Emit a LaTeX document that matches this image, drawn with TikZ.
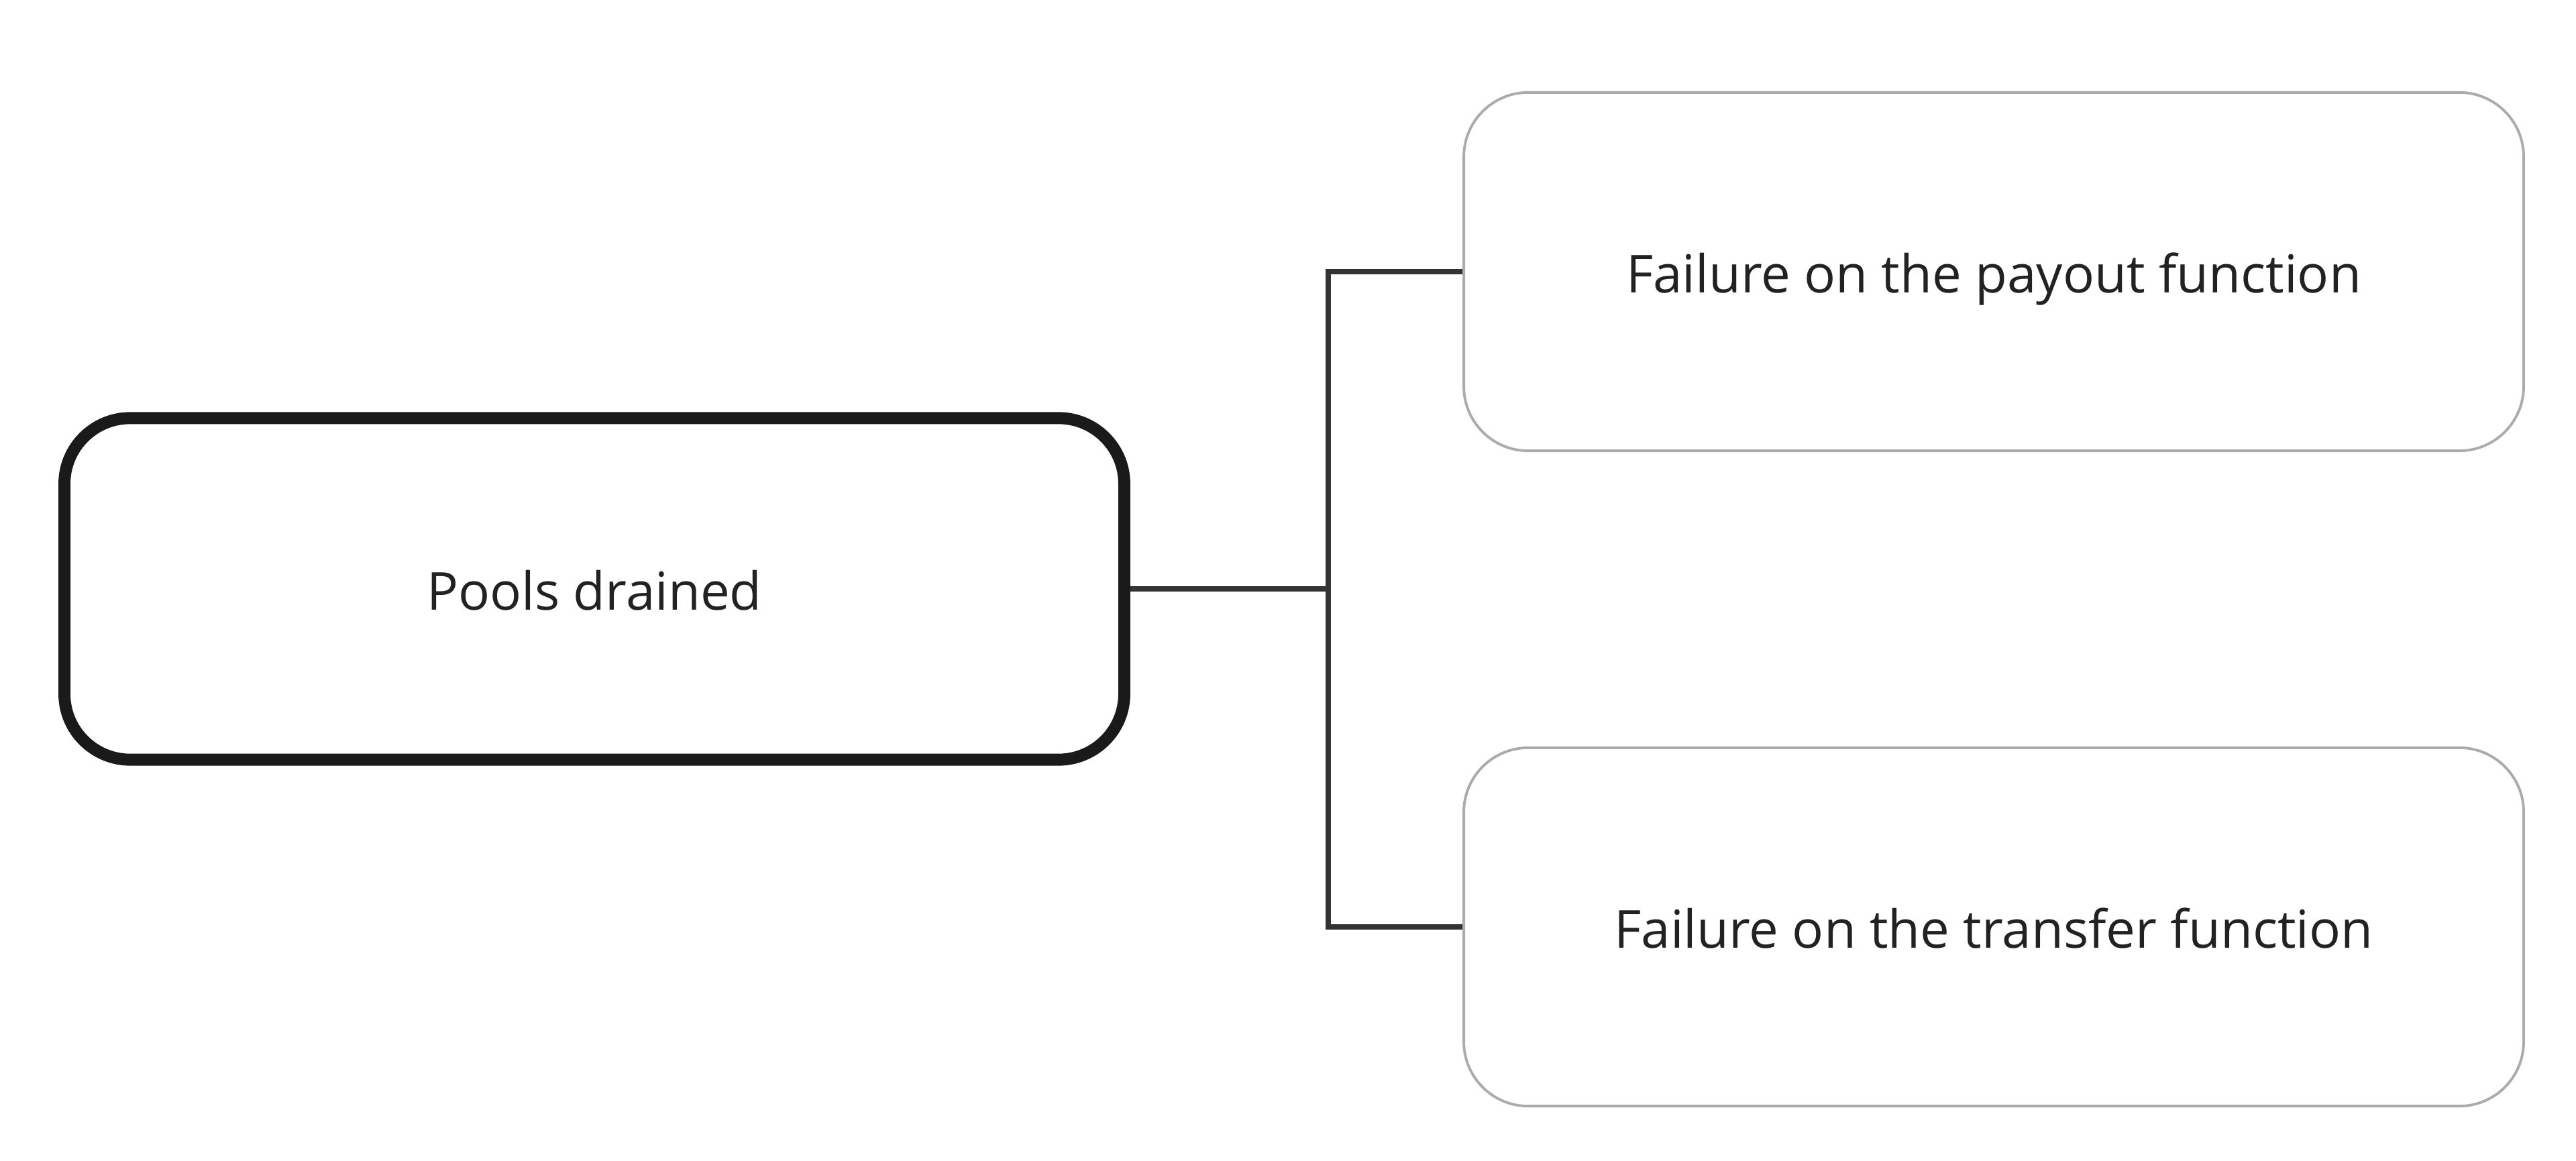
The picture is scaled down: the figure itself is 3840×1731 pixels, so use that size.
\documentclass[tikz,border=0pt]{standalone}
\usepackage{fontspec}
\setmainfont{Open Sans}
\usetikzlibrary{positioning,calc}
\definecolor{rootline}{HTML}{1A1A1A}
\definecolor{leafline}{HTML}{ABABAB}
\definecolor{linkline}{HTML}{333333}
\definecolor{labeltext}{HTML}{222222}

\begin{document}
\begin{tikzpicture}[
 x=0.01cm, y=-0.01cm,
 font=\fontsize{22.2}{27}\selectfont, text=labeltext,
 root/.style={draw=rootline,line width=5.1pt,rounded corners=0.98cm,minimum width=15.79cm,minimum height=5.09cm,align=center,text height=22pt,text depth=4.1pt},
 leaf/.style={draw=leafline,line width=1.1pt,rounded corners=0.96cm,minimum width=15.79cm,minimum height=5.34cm,align=center,text height=22pt,text depth=4.1pt},
 link/.style={draw=linkline,line width=2.2pt}
]
\useasboundingbox (0,0) rectangle (3840,1731);
\node[root] (pools) at (886,878) {Pools drained};
\node[leaf] (payout) at (2972,405) {Failure on the payout function};
\node[leaf] (transfer) at (2972,1382) {Failure on the transfer function};
\coordinate (fork) at (1980,878);
\draw[link] (pools.east) -- (fork);
\draw[link] (payout.west) -- (payout.west -| fork) -- (transfer.west -| fork) -- (transfer.west);
\end{tikzpicture}
\end{document}
